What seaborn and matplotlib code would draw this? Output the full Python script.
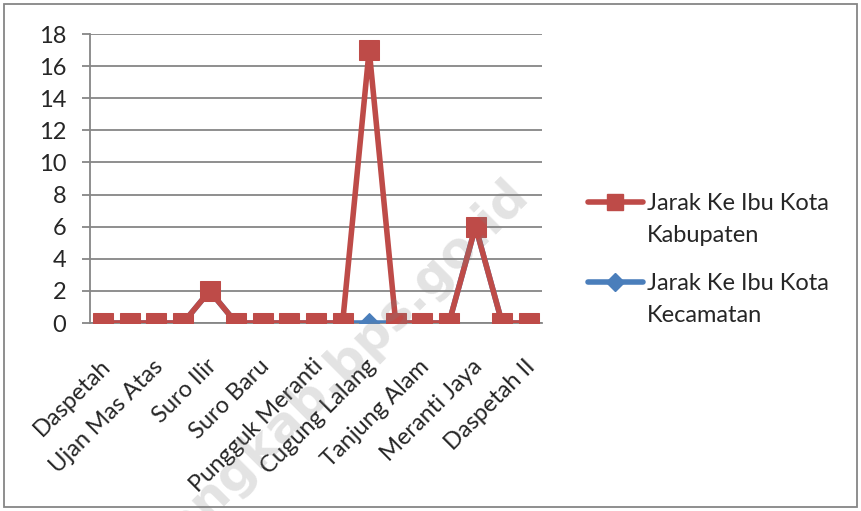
import numpy as np
import pandas as pd
import matplotlib
matplotlib.use("Agg")
import matplotlib.pyplot as plt
from matplotlib.lines import Line2D
from matplotlib.patches import Rectangle
from matplotlib.transforms import ScaledTranslation
import seaborn as sns

# data desa (label yang tidak tampil di sumbu dilewati oleh Excel)
desa = ["Daspetah", "Suro Muncar", "Ujan Mas Atas", "Ujan Mas Bawah", "Suro Ilir",
        "Suro Lembak", "Suro Baru", "Suro Bali", "Pungguk Meranti", "Bumi Sari",
        "Cugung Lalang", "Air Hitam", "Tanjung Alam", "Tebat Monok", "Meranti Jaya",
        "Pekalongan", "Daspetah II"]
jarak_kabupaten = [0, 0, 0, 0, 2, 0, 0, 0, 0, 0, 17, 0, 0, 0, 6, 0, 0]
jarak_kecamatan = [0, 0, 0, 0, 2, 0, 0, 0, 0, 0, 0, 0, 0, 0, 6, 0, 0]
label_kab = ["Jarak Ke Ibu Kota", "Kabupaten"]
label_kec = ["Jarak Ke Ibu Kota", "Kecamatan"]

merah = "#be4b48"
biru = "#4a7ebb"
abu = "#868686"
ukuran = 17

sns.set_style("white")
plt.rcParams['font.family'] = ['Lato', 'DejaVu Sans']

df = pd.DataFrame({"desa": desa, "pos": np.arange(len(desa)),
                   "kab": jarak_kabupaten, "kec": jarak_kecamatan})

fig = plt.figure(figsize=(8.62, 5.11), dpi=100)
ax = fig.add_axes([90 / 862, 1 - 323 / 511, 452 / 862, 289 / 511])

sns.lineplot(data=df, x="pos", y="kec", ax=ax, color=biru, linewidth=4,
             marker="D", markersize=10, markeredgecolor=biru, zorder=3)
sns.lineplot(data=df, x="pos", y="kab", ax=ax, color=merah, linewidth=4,
             marker="s", markersize=15, markeredgecolor=merah, zorder=4)

ax.set_xlim(-0.5, len(desa) - 0.5)
ax.set_ylim(0, 18)
ax.set_yticks(range(0, 19, 2))
ax.yaxis.grid(True, color=abu, linewidth=1.3)
ax.set_axisbelow(True)
for s in ["top", "right"]:
    ax.spines[s].set_visible(False)
for s in ["left", "bottom"]:
    ax.spines[s].set_color(abu)
    ax.spines[s].set_linewidth(1.3)
ax.set_xlabel("")
ax.set_ylabel("")

ax.set_xticks(df["pos"][::2])
ax.set_xticklabels(df["desa"][::2], rotation=45, ha="right", rotation_mode="anchor", fontsize=ukuran)
ax.set_xticks(np.arange(-0.5, len(desa), 1), minor=True)
ax.tick_params(axis="x", which="major", length=0, pad=22)
ax.tick_params(axis="x", which="minor", length=4, color=abu, width=1.3, direction="out")
ax.tick_params(axis="y", length=6, color=abu, width=1.3, direction="out", pad=11, labelsize=ukuran)
ax.tick_params(left=True, bottom=True)

# geser sedikit label sumbu x ke kiri bawah
geser = ScaledTranslation(-4 / 100, -2 / 100, fig.dpi_scale_trans)
for lbl in ax.get_xticklabels():
    lbl.set_transform(lbl.get_transform() + geser)

# legenda manual supaya penanda sejajar dengan baris pertama
for y0, warna, mk, ms, teks in [(202, merah, "s", 12, label_kab), (282, biru, "D", 9, label_kec)]:
    yf = 1 - y0 / 511
    fig.add_artist(Line2D([588 / 862, 643 / 862], [yf, yf], color=warna, linewidth=4,
                          solid_capstyle="round"))
    fig.add_artist(Line2D([615.5 / 862], [yf], color=warna, marker=mk, markersize=ms,
                          markeredgecolor=warna))
    for i, baris in enumerate(teks):
        fig.text(647 / 862, 1 - (y0 + 1 + 33 * i) / 511, baris, fontsize=ukuran,
                 va="center", ha="left")

# bingkai luar chart
fig.add_artist(Rectangle((4 / 862, 4 / 511), 853 / 862, 503 / 511, transform=fig.transFigure,
                         fill=False, edgecolor=abu, linewidth=1.3))

# watermark
fig.text(530 / 862, 1 - 196 / 511, "kepahiangkab.bps.go.id", rotation=45, fontsize=36,
         family="DejaVu Sans", fontweight="bold", color="#808080", alpha=0.22,
         ha="right", va="baseline", rotation_mode="anchor", zorder=10)

fig.savefig("out.png", dpi=100)
